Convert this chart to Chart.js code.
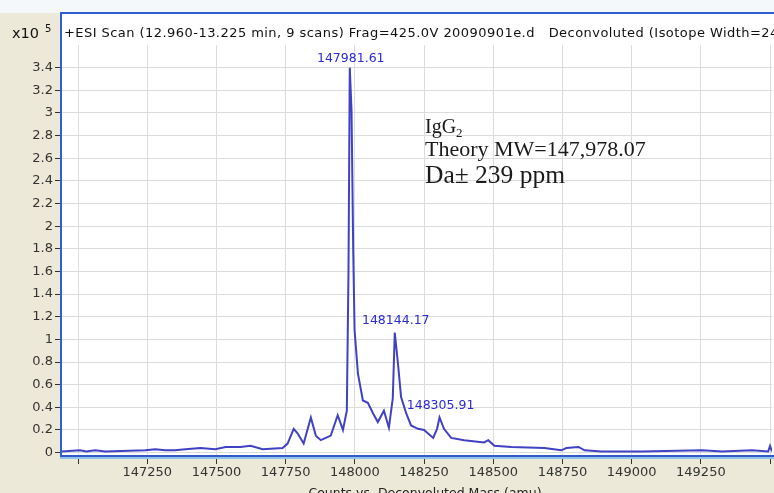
<!DOCTYPE html>
<html>
<head>
<meta charset="utf-8">
<script src="https://cdn.jsdelivr.net/npm/chart.js@4/dist/chart.umd.min.js"></script>
<style>
    html, body { margin: 0; padding: 0; background: #ece9d8; }
    canvas { display: block; }
</style>
</head>
<body>
<canvas id="chartSpectrum" width="774" height="493"></canvas>
<script>
// deconvoluted spectrum, counts in units of 1e5
const masses = [
    146942, 147007, 147030, 147062, 147098, 147243, 147279, 147315, 147350, 147388,
    147442, 147496, 147533, 147587, 147623, 147667, 147739, 147757, 147779, 147793,
    147815, 147841, 147859, 147877, 147913, 147938, 147957, 147971, 147977, 147981.61,
    147988, 147994, 147999, 148011, 148029, 148047, 148065, 148083, 148105, 148123,
    148137, 148144.17, 148156, 148167, 148185, 148203, 148228, 148250, 148283, 148297,
    148305.91, 148322, 148348, 148395, 148467, 148482, 148504, 148565, 148685, 148746,
    148764, 148808, 148830, 148891, 149036, 149254, 149326, 149435, 149493, 149500,
    149507
];
const counts = [
    0.01, 0.02, 0.01, 0.02, 0.01, 0.02, 0.03, 0.02, 0.02, 0.03,
    0.04, 0.03, 0.05, 0.05, 0.06, 0.03, 0.04, 0.08, 0.21, 0.17,
    0.08, 0.31, 0.15, 0.11, 0.15, 0.33, 0.20, 0.37, 1.60, 3.40,
    3.02, 1.80, 1.08, 0.70, 0.46, 0.44, 0.35, 0.27, 0.37, 0.22,
    0.48, 1.06, 0.78, 0.49, 0.35, 0.24, 0.21, 0.20, 0.13, 0.21,
    0.31, 0.21, 0.13, 0.11, 0.09, 0.11, 0.06, 0.05, 0.04, 0.02,
    0.04, 0.05, 0.02, 0.01, 0.01, 0.02, 0.01, 0.02, 0.01, 0.06,
    0.01
];
const peakMasses = [147981.61, 148144.17, 148305.91];

const xTicks = [147000, 147250, 147500, 147750, 148000, 148250, 148500, 148750, 149000, 149250, 149500];
const xTickLabels = ['', '147250', '147500', '147750', '148000', '148250', '148500', '148750', '149000', '149250', ''];
const yTicks = [0, 0.2, 0.4, 0.6, 0.8, 1, 1.2, 1.4, 1.6, 1.8, 2, 2.2, 2.4, 2.6, 2.8, 3, 3.2, 3.4];
const yTickLabels = ['0', '0.2', '0.4', '0.6', '0.8', '1', '1.2', '1.4', '1.6', '1.8', '2', '2.2', '2.4', '2.6', '2.8', '3', '3.2', '3.4'];

const headerText = '+ESI Scan (12.960-13.225 min, 9 scans) Frag=425.0V 20090901e.d   Deconvoluted (Isotope Width=24.3)';
const axisTitle = 'Counts vs. Deconvoluted Mass (amu)';

const sans = '"DejaVu Sans", Verdana, sans-serif';
const serif = '"Liberation Serif", "Times New Roman", serif';

// window frame, header, peak labels and the note on the right
const spectrumFrame = {
    id: 'spectrumFrame',
    beforeDraw(chart) {
        const { ctx, chartArea: a } = chart;
        ctx.save();
        ctx.fillStyle = '#ece9d8';
        ctx.fillRect(0, 0, chart.width, chart.height);
        ctx.fillStyle = '#f5f8fb';
        ctx.fillRect(0, 0, chart.width, 13);
        ctx.fillStyle = '#ffffff';
        ctx.fillRect(60, 13, chart.width - 60, a.bottom - 13);
        ctx.restore();
    },
    afterDraw(chart) {
        const { ctx, chartArea: a, scales } = chart;
        ctx.save();

        // blue frame round the plot
        ctx.fillStyle = '#2f5fd0';
        ctx.fillRect(60, 12, chart.width - 60, 2);
        ctx.fillRect(60, 12, 2, a.bottom - 10);
        ctx.fillStyle = '#3458c8';
        ctx.fillRect(60, a.bottom - 1, chart.width - 60, 2);
        ctx.fillStyle = '#8fc3ee';
        ctx.fillRect(60, a.bottom + 1, chart.width - 60, 2);

        // header line
        ctx.fillStyle = '#111';
        ctx.font = '13px ' + sans;
        ctx.textBaseline = 'alphabetic';
        ctx.textAlign = 'left';
        ctx.letterSpacing = '0.45px';
        ctx.fillText(headerText, 64, 37);
        ctx.letterSpacing = '0px';
        ctx.font = '14.5px ' + sans;
        ctx.fillText('x10', 12, 38);
        ctx.font = '10px ' + sans;
        ctx.fillText('5', 45, 32);

        // axis title, cut by the window bottom
        ctx.fillStyle = '#222';
        ctx.font = '12.5px ' + sans;
        ctx.textAlign = 'center';
        ctx.fillText(axisTitle, 425, 497);

        // peak labels, placed on the series itself
        ctx.fillStyle = '#2b2bd0';
        ctx.font = '12.5px ' + sans;
        ctx.textAlign = 'center';
        peakMasses.forEach((m, k) => {
            const i = masses.indexOf(m);
            const x = scales.x.getPixelForValue(m);
            const y = scales.y.getPixelForValue(counts[i]);
            ctx.fillText(m.toFixed(2), x + 1, y - (k === 0 ? 6 : 9));
        });

        // note
        ctx.fillStyle = '#1a1a1a';
        ctx.textAlign = 'left';
        ctx.font = '20px ' + serif;
        ctx.fillText('IgG', 425, 133);
        const w = ctx.measureText('IgG').width;
        ctx.font = '13px ' + serif;
        ctx.fillText('2', 425 + w, 137);
        ctx.font = '22px ' + serif;
        ctx.fillText('Theory MW=147,978.07', 425, 156);
        ctx.font = '25.5px ' + serif;
        ctx.fillText('Da\u00b1 239 ppm', 425, 183);

        ctx.restore();
    }
};

const ctx = document.getElementById('chartSpectrum').getContext('2d');

const chartSpectrum = new Chart(ctx, {
    type: 'line',
    data: {
        datasets: [{
            data: masses.map((m, i) => ({ x: m, y: counts[i] })),
            borderColor: '#4141c4',
            borderWidth: 2,
            pointRadius: 0,
            tension: 0,
            fill: false
        }]
    },
    options: {
        responsive: false,
        animation: false,
        events: [],
        layout: { padding: { top: 45, right: 2, left: 0, bottom: 0 } },
        plugins: {
            legend: { display: false },
            tooltip: { enabled: false }
        },
        scales: {
            x: {
                type: 'linear',
                min: 146942,
                max: 149507,
                afterBuildTicks: (scale) => { scale.ticks = xTicks.map(v => ({ value: v })); },
                afterFit: (scale) => { scale.height = 37; },
                border: { display: false },
                grid: { color: '#dcdcdc', tickColor: '#333', tickLength: 8 },
                ticks: {
                    color: '#333',
                    font: { family: sans, size: 13 },
                    padding: 1,
                    maxRotation: 0,
                    autoSkip: false,
                    callback: (v, i) => xTickLabels[i]
                }
            },
            y: {
                min: -0.03,
                max: 3.6,
                afterBuildTicks: (scale) => { scale.ticks = yTicks.map(v => ({ value: v })); },
                afterFit: (scale) => { scale.width = 62; },
                border: { display: false },
                grid: { color: '#dcdcdc', tickColor: '#333', tickLength: 7 },
                ticks: {
                    color: '#333',
                    font: { family: sans, size: 13 },
                    padding: 2,
                    autoSkip: false,
                    callback: (v, i) => yTickLabels[i]
                }
            }
        }
    },
    plugins: [spectrumFrame]
});
</script>
</body>
</html>
